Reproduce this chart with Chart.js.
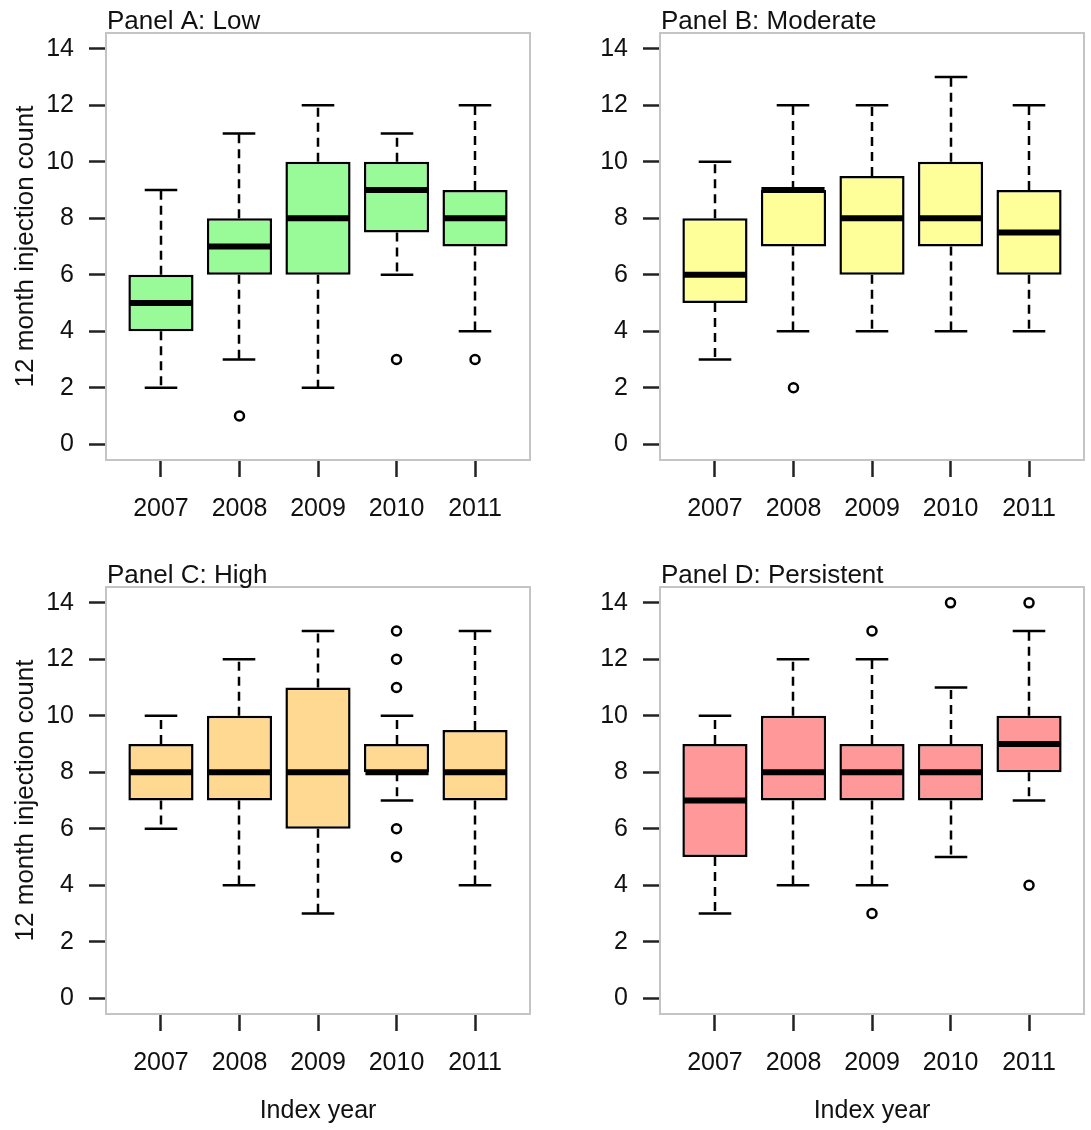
<!DOCTYPE html>
<html>
<head>
<meta charset="utf-8">
<script src="https://cdn.jsdelivr.net/npm/chart.js@4.4.1/dist/chart.umd.min.js"></script>
<style>
html, body { margin: 0; padding: 0; background: #fff; overflow: hidden; }
canvas { position: absolute; }
</style>
</head>
<body>
<canvas id="panelA" width="537" height="554" style="left:0px;top:0px"></canvas>
<canvas id="panelB" width="537" height="554" style="left:554px;top:0px"></canvas>
<canvas id="panelC" width="537" height="576" style="left:0px;top:554px"></canvas>
<canvas id="panelD" width="537" height="576" style="left:554px;top:554px"></canvas>
<script>
const years = ['2007', '2008', '2009', '2010', '2011'];
const yTicks = [0, 2, 4, 6, 8, 10, 12, 14];

// [lower whisker, q1, median, q3, upper whisker] per year
const lowStats = [[2, 4, 5, 6, 9], [3, 6, 7, 8, 11], [2, 6, 8, 10, 12], [6, 7.5, 9, 10, 11], [4, 7, 8, 9, 12]];
const lowOutliers = [[], [1], [], [3], [3]];

const moderateStats = [[3, 5, 6, 8, 10], [4, 7, 9, 9, 12], [4, 6, 8, 9.5, 12], [4, 7, 8, 10, 13], [4, 6, 7.5, 9, 12]];
const moderateOutliers = [[], [2], [], [], []];

const highStats = [[6, 7, 8, 9, 10], [4, 7, 8, 10, 12], [3, 6, 8, 11, 13], [7, 8, 8, 9, 10], [4, 7, 8, 9.5, 13]];
const highOutliers = [[], [], [], [5, 6, 11, 12, 13], []];

const persistentStats = [[3, 5, 7, 9, 10], [4, 7, 8, 10, 12], [4, 7, 8, 9, 12], [5, 7, 8, 9, 11], [7, 8, 9, 10, 13]];
const persistentOutliers = [[], [], [3, 13], [14], [4, 14]];

Chart.defaults.font.family = '"Liberation Sans", Arial, sans-serif';
Chart.defaults.color = '#111';

// whiskers, staples and median lines, placed with the chart's own scales
const boxExtras = {
    id: 'boxExtras',
    afterDatasetsDraw(chart) {
        const ds = chart.data.datasets[0];
        const meta = chart.getDatasetMeta(0);
        const xs = chart.scales.x, ys = chart.scales.y;
        const ctx = chart.ctx;
        ctx.save();
        ctx.strokeStyle = '#000';
        ds.stats.forEach((s, i) => {
            const cx = Math.round(xs.getPixelForValue(i + 1));
            const half = meta.data[i].width / 2;
            ctx.lineWidth = 2.5;
            ctx.setLineDash([9, 6]);
            ctx.beginPath();
            ctx.moveTo(cx, ys.getPixelForValue(s[3]));
            ctx.lineTo(cx, ys.getPixelForValue(s[4]));
            ctx.moveTo(cx, ys.getPixelForValue(s[1]));
            ctx.lineTo(cx, ys.getPixelForValue(s[0]));
            ctx.stroke();
            ctx.setLineDash([]);
            ctx.beginPath();
            [s[0], s[4]].forEach(v => {
                const py = ys.getPixelForValue(v);
                ctx.moveTo(cx - half / 2, py);
                ctx.lineTo(cx + half / 2, py);
            });
            ctx.stroke();
            ctx.lineWidth = 6;
            ctx.beginPath();
            const my = ys.getPixelForValue(s[2]);
            ctx.moveTo(cx - half + 1, my);
            ctx.lineTo(cx + half - 1, my);
            ctx.stroke();
        });
        ctx.restore();
    }
};

const frame = {
    id: 'frame',
    afterDraw(chart) {
        const a = chart.chartArea;
        const ctx = chart.ctx;
        ctx.save();
        ctx.strokeStyle = '#c4c4c4';
        ctx.lineWidth = 2;
        ctx.strokeRect(a.left, a.top, a.right - a.left, a.bottom - a.top);
        ctx.restore();
    }
};

const panelTitle = {
    id: 'panelTitle',
    afterDraw(chart, args, opts) {
        const ctx = chart.ctx;
        ctx.save();
        ctx.font = '26px "Liberation Sans", Arial, sans-serif';
        ctx.fillStyle = '#111';
        ctx.textBaseline = 'alphabetic';
        ctx.fillText(opts.text, chart.chartArea.left + 1, chart.chartArea.top - 4);
        ctx.restore();
    }
};

function makePanel(id, title, stats, outliers, color, showYTitle, showXTitle, xHeight) {
    return new Chart(document.getElementById(id), {
        type: 'bar',
        data: {
            datasets: [{
                type: 'bar',
                data: stats.map((s, i) => ({x: i + 1, y: [s[1], s[3]]})),
                stats: stats,
                backgroundColor: color,
                borderColor: '#000',
                borderWidth: 2.5,
                borderSkipped: false,
                barPercentage: 0.83,
                categoryPercentage: 1
            }, {
                type: 'scatter',
                data: outliers.flatMap((arr, i) => arr.map(v => ({x: i + 1, y: v}))),
                pointRadius: 4.5,
                pointBorderWidth: 2.5,
                borderColor: '#000',
                backgroundColor: 'rgba(0,0,0,0)'
            }]
        },
        options: {
            responsive: false,
            animation: false,
            layout: {padding: {left: 0, top: 33, right: 4, bottom: 0}},
            plugins: {
                legend: {display: false},
                tooltip: {enabled: false},
                panelTitle: {text: title}
            },
            scales: {
                x: {
                    type: 'linear',
                    min: 0.3,
                    max: 5.7,
                    offset: false,
                    afterBuildTicks: s => { s.ticks = years.map((y, i) => ({value: i + 1})); },
                    afterFit: s => { s.height = xHeight; },
                    ticks: {
                        callback: v => years[v - 1],
                        font: {size: 25},
                        color: '#111',
                        padding: 17,
                        maxRotation: 0,
                        autoSkip: false
                    },
                    grid: {offset: false, drawOnChartArea: false, tickLength: 17, tickWidth: 2.5, tickColor: '#222'},
                    border: {display: false},
                    title: {
                        display: showXTitle,
                        text: 'Index year',
                        font: {size: 25},
                        color: '#111',
                        padding: {top: 0, bottom: 4}
                    }
                },
                y: {
                    min: -0.56,
                    max: 14.56,
                    afterBuildTicks: s => { s.ticks = yTicks.map(v => ({value: v})); },
                    afterFit: s => { s.width = 106; },
                    ticks: {font: {size: 25}, color: '#111', padding: 15},
                    grid: {drawOnChartArea: false, tickLength: 17, tickWidth: 2.5, tickColor: '#222'},
                    border: {display: false},
                    title: {
                        display: showYTitle,
                        text: '12 month injection count',
                        font: {size: 26},
                        color: '#111',
                        padding: {top: 10, bottom: 0}
                    }
                }
            }
        },
        plugins: [boxExtras, frame, panelTitle]
    });
}

makePanel('panelA', 'Panel A: Low', lowStats, lowOutliers, '#98fb98', true, false, 94);
makePanel('panelB', 'Panel B: Moderate', moderateStats, moderateOutliers, '#ffff99', false, false, 94);
makePanel('panelC', 'Panel C: High', highStats, highOutliers, '#ffd892', true, true, 116);
makePanel('panelD', 'Panel D: Persistent', persistentStats, persistentOutliers, '#ff9999', false, true, 116);
</script>
</body>
</html>
